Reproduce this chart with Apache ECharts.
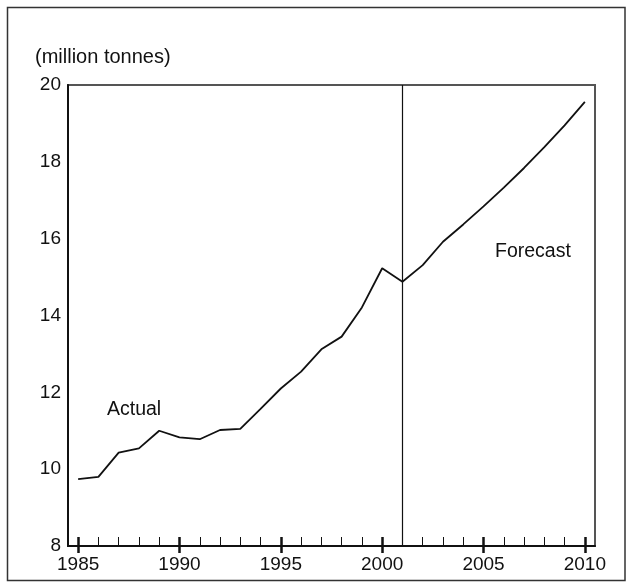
<!DOCTYPE html>
<html>
<head>
<meta charset="utf-8">
<script src="https://cdn.jsdelivr.net/npm/echarts@6/dist/echarts.min.js"></script>
<style>
html,body{margin:0;padding:0;background:#fff;}
#chart{width:626px;height:586px;}
</style>
</head>
<body>
<div id="chart"></div>
<script>
const years = ['1985','1986','1987','1988','1989','1990','1991','1992','1993','1994','1995','1996','1997','1998','1999','2000','2001','2002','2003','2004','2005','2006','2007','2008','2009','2010'];
const actual = [9.74, 9.80, 10.43, 10.54, 11.00, 10.83, 10.78, 11.02, 11.05, 11.57, 12.10, 12.54, 13.12, 13.45, 14.21, 15.23, 14.88];
const forecast = [15.31, 15.92, 16.37, 16.84, 17.33, 17.84, 18.38, 18.95, 19.56];
const yTicks = [8, 10, 12, 14, 16, 18, 20];
const forecastStart = '2001';
const unitLabel = '(million tonnes)';

const values = actual.concat(forecast);
const FONT = '"Liberation Sans", Arial, sans-serif';
const chart = echarts.init(document.getElementById('chart'), null, {renderer: 'canvas'});

const baseX = {
  type: 'category', data: years, boundaryGap: true, position: 'bottom', gridIndex: 0
};

chart.setOption({
  animation: false,
  backgroundColor: '#fff',
  grid: {left: 68, right: 31, top: 85, bottom: 40, show: true, borderColor: '#555', borderWidth: 2, containLabel: false},
  xAxis: [
    Object.assign({}, baseX, {
      axisLine: {show: true, lineStyle: {color: '#111', width: 2}},
      axisTick: {show: true, alignWithLabel: true, interval: 0, inside: true, length: 9, lineStyle: {color: '#111', width: 1}},
      axisLabel: {show: true, interval: 4, fontSize: 19, color: '#111', margin: 9, fontFamily: FONT},
      splitLine: {show: false}
    }),
    Object.assign({}, baseX, {
      axisLine: {show: false},
      axisTick: {show: true, alignWithLabel: true, interval: 4, inside: true, length: 9, lineStyle: {color: '#111', width: 2.5}},
      axisLabel: {show: false},
      splitLine: {show: false}
    }),
    Object.assign({}, baseX, {
      axisLine: {show: false},
      axisTick: {show: true, alignWithLabel: true, interval: 4, inside: false, length: 7, lineStyle: {color: '#111', width: 2.5}},
      axisLabel: {show: false},
      splitLine: {show: false}
    })
  ],
  yAxis: {
    type: 'value', min: yTicks[0], max: yTicks[yTicks.length - 1], interval: 2,
    axisLine: {show: true, lineStyle: {color: '#111', width: 2}},
    axisTick: {show: false},
    splitLine: {show: false},
    axisLabel: {fontSize: 19, color: '#111', margin: 7, fontFamily: FONT}
  },
  series: [{
    type: 'line',
    xAxisIndex: 0, yAxisIndex: 0,
    data: values,
    symbol: 'none',
    lineStyle: {color: '#111', width: 1.8},
    markLine: {
      silent: true, symbol: 'none',
      label: {show: false},
      lineStyle: {color: '#111', width: 1.2, type: 'solid'},
      data: [{xAxis: forecastStart}]
    }
  }],
  graphic: [
    {type: 'rect', shape: {x: 7.5, y: 7.5, width: 617.5, height: 573}, style: {fill: 'none', stroke: '#333', lineWidth: 1.5}, silent: true},
    {type: 'text', left: 35, top: 47, style: {text: unitLabel, fontSize: 20, fill: '#111', fontFamily: FONT}},
    {type: 'text', left: 107, top: 400, style: {text: 'Actual', fontSize: 19.5, fill: '#111', fontFamily: FONT}},
    {type: 'text', left: 495, top: 242, style: {text: 'Forecast', fontSize: 19.5, fill: '#111', fontFamily: FONT}}
  ]
});
</script>
</body>
</html>
